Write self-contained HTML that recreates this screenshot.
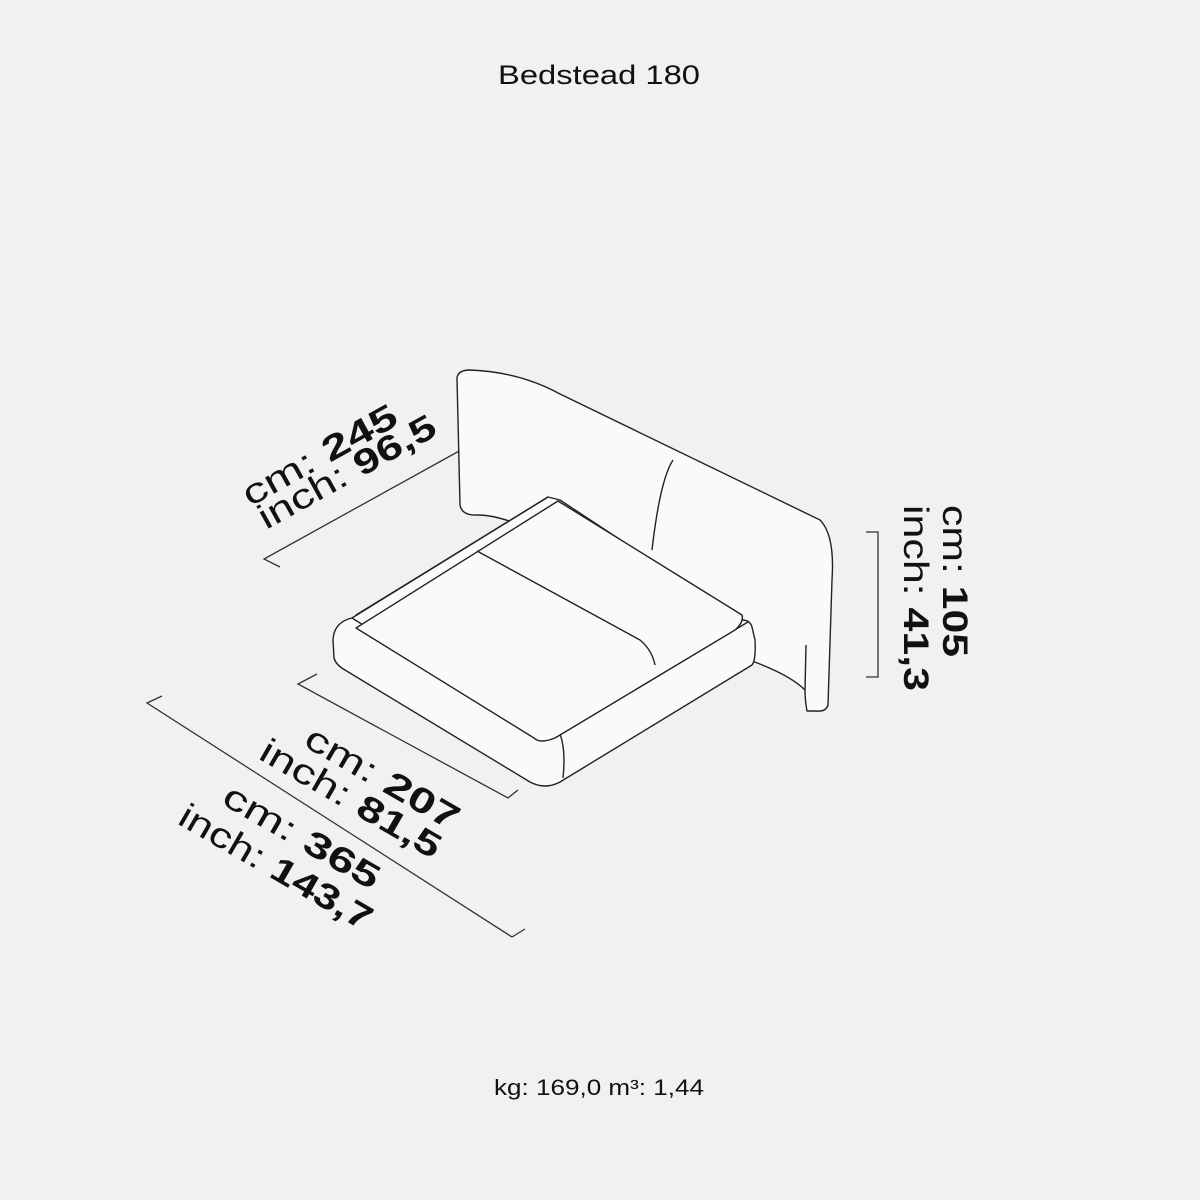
<!DOCTYPE html>
<html><head><meta charset="utf-8"><style>
html,body{margin:0;padding:0;background:#f1f1f1;}
svg{display:block}
text{font-family:"Liberation Sans",sans-serif;fill:#111}
</style></head><body>
<svg width="1200" height="1200" viewBox="0 0 1200 1200" xmlns="http://www.w3.org/2000/svg">
<rect width="1200" height="1200" fill="#f1f1f1"/>
<text x="599" y="84" font-size="27" text-anchor="middle" textLength="202" lengthAdjust="spacingAndGlyphs">Bedstead 180</text>
<text x="599" y="1095" font-size="22" text-anchor="middle" fill="#333" textLength="210" lengthAdjust="spacingAndGlyphs">kg: 169,0 m³: 1,44</text>

<g fill="none" stroke="#333" stroke-width="1.3">
<polyline points="461,450 264,559 280,567"/>
<polyline points="317,674 298,684 508,798 518,790"/>
<polyline points="162,696 147,703 512,937 525,929"/>
<polyline points="866,532 878,532 878,677 866,677"/>
</g>

<g fill="#fafafa" stroke="#222" stroke-width="1.4" stroke-linejoin="round">
<path d="M457,378 Q458,370 470,370 Q520,372 560,394 L820,520 Q835,535 832,580 L828,705 Q826,712 816,711 L807,711 Q805,700 805,690 Q790,675 752,661 L520,525 Q495,515 478,515 Q462,516 460,505 Z"/>
<path d="M673,460 Q660,480 652,550" />
<path d="M805,690 L806,645"/>
<path d="M352,618 Q334,622 333,640 L334,658 Q336,665 345,670 L530,782 Q545,790 560,782 L752,665 Q756,660 755,640 L752,627 Q750,620 742,620 L560,500 L548,497 Z"/>
<path d="M352,618 L540,736 L560,734 L748,622"/>
<path d="M560,734 Q566,750 563,778"/>
<path d="M356,628 L558,501 L742,615 Q744,622 735,630 L555,738 Q540,744 534,738 Z"/>
<path d="M477,551 L640,640 Q652,650 655,665"/>
<path d="M356,615 L548,497"/>
</g>

<g font-size="35">
<text transform="translate(250,507) rotate(-29)" textLength="172" lengthAdjust="spacingAndGlyphs"><tspan>cm: </tspan><tspan font-weight="bold">245</tspan></text>
<text transform="translate(266,530) rotate(-29)" textLength="198" lengthAdjust="spacingAndGlyphs"><tspan>inch: </tspan><tspan font-weight="bold">96,5</tspan></text>
<text transform="translate(302,745) rotate(30)" textLength="172" lengthAdjust="spacingAndGlyphs"><tspan>cm: </tspan><tspan font-weight="bold">207</tspan></text>
<text transform="translate(257,758) rotate(30)" textLength="203" lengthAdjust="spacingAndGlyphs"><tspan>inch: </tspan><tspan font-weight="bold">81,5</tspan></text>
<text transform="translate(220,803) rotate(30)" textLength="175" lengthAdjust="spacingAndGlyphs"><tspan>cm: </tspan><tspan font-weight="bold">365</tspan></text>
<text transform="translate(176,823) rotate(30)" textLength="217" lengthAdjust="spacingAndGlyphs"><tspan>inch: </tspan><tspan font-weight="bold">143,7</tspan></text>
<text transform="translate(943,505) rotate(90)" textLength="152" lengthAdjust="spacingAndGlyphs"><tspan>cm: </tspan><tspan font-weight="bold">105</tspan></text>
<text transform="translate(904,505) rotate(90)" textLength="186" lengthAdjust="spacingAndGlyphs"><tspan>inch: </tspan><tspan font-weight="bold">41,3</tspan></text>
</g>
</svg>
</body></html>
